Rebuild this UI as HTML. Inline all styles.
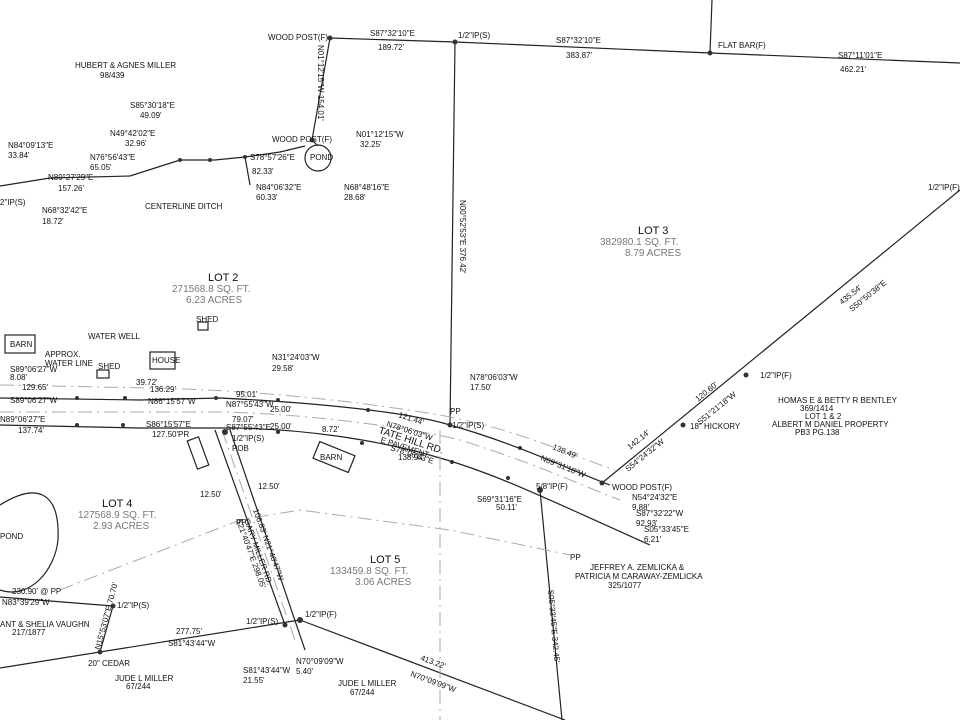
<!DOCTYPE html>
<html><head><meta charset="utf-8"><style>
html,body{margin:0;padding:0;background:#fff;width:960px;height:720px;overflow:hidden}
svg{display:block}
text{font-family:"Liberation Sans",sans-serif;font-size:8px;fill:#111}
.g{fill:#777}
.big{font-size:11px}
.l{stroke:#222;stroke-width:1.2;fill:none}
.d{stroke:#aaa;stroke-width:1;fill:none;stroke-dasharray:14 5 2 5}
.p{fill:#333}
</style></head><body>
<svg width="960" height="720" viewBox="0 0 960 720">
<!-- top boundary -->
<polyline class="l" points="330,38 455,42 710,53 960,63"/>
<line class="l" x1="710" y1="53" x2="712" y2="0"/>
<line class="l" x1="455" y1="42" x2="450" y2="425"/>
<polyline class="l" points="330,38 312,140 318,146"/>
<circle cx="318" cy="158" r="13" class="l"/>
<!-- ditch -->
<polyline class="l" points="0,186 50,178 130,176 180,160 215,160 245,157 280,152 305,146"/>
<polyline class="l" points="245,157 250,185"/>
<!-- diagonal east -->
<line class="l" x1="602" y1="483" x2="960" y2="190"/>
<!-- roads -->
<path class="l" d="M0,398 L140,400 L220,398 C300,402 400,410 450,425 C520,445 570,470 610,485"/>
<path class="l" d="M0,425 L140,428 L225,428 C300,428 380,440 440,458 C500,475 560,505 650,545"/>
<path class="d" d="M0,412 L220,412 C320,414 420,430 460,440 C540,465 580,485 620,500"/>
<path class="d" d="M0,385 L150,388 C250,390 350,400 440,415 C520,430 570,455 615,470"/>
<!-- Gary Miller Rd -->
<line class="l" x1="215" y1="430" x2="285" y2="625"/>
<line class="l" x1="230" y1="430" x2="305" y2="650"/>
<line class="d" x1="222" y1="430" x2="295" y2="640"/>
<!-- south lines -->
<line class="l" x1="0" y1="668" x2="300" y2="620"/>
<line class="l" x1="300" y1="620" x2="565" y2="720"/>
<line class="l" x1="0" y1="597" x2="113" y2="606"/>
<line class="l" x1="113" y1="606" x2="100" y2="652"/>
<line class="l" x1="540" y1="490" x2="562" y2="720"/>
<path class="d" d="M60,590 L240,520 L300,510 L450,530 L570,555"/>
<line class="d" x1="440" y1="430" x2="440" y2="720"/>
<path class="l" d="M0,505 C40,480 60,495 58,540 C55,570 30,600 0,590"/>
<!-- boxes -->
<rect x="5" y="335" width="30" height="18" class="l"/>
<rect x="150" y="352" width="25" height="17" class="l"/>
<rect x="97" y="370" width="12" height="8" class="l"/>
<rect x="198" y="322" width="10" height="8" class="l"/>
<rect x="315" y="448" width="38" height="18" class="l" transform="rotate(22 334 457)"/>
<rect x="192" y="438" width="12" height="30" class="l" transform="rotate(-20 198 453)"/>
<!-- points -->
<g class="p">
<circle cx="330" cy="38" r="2.5"/><circle cx="455" cy="42" r="2.5"/><circle cx="710" cy="53" r="2.5"/>
<circle cx="312" cy="140" r="2.5"/><circle cx="450" cy="425" r="2.5"/><circle cx="540" cy="490" r="3"/>
<circle cx="602" cy="483" r="2.5"/><circle cx="683" cy="425" r="2.5"/><circle cx="746" cy="375" r="2.5"/>
<circle cx="225" cy="432" r="3"/><circle cx="300" cy="620" r="3"/><circle cx="285" cy="625" r="2.5"/>
<circle cx="100" cy="652" r="2.5"/><circle cx="113" cy="606" r="2.5"/>
<circle cx="77" cy="398" r="2"/><circle cx="125" cy="398" r="2"/><circle cx="216" cy="398" r="2"/><circle cx="278" cy="400" r="2"/><circle cx="368" cy="410" r="2"/><circle cx="520" cy="448" r="2"/>
<circle cx="77" cy="425" r="2"/><circle cx="123" cy="425" r="2"/><circle cx="278" cy="432" r="2"/><circle cx="362" cy="443" r="2"/><circle cx="452" cy="462" r="2"/><circle cx="508" cy="478" r="2"/>
<circle cx="180" cy="160" r="2"/><circle cx="210" cy="160" r="2"/><circle cx="245" cy="157" r="2"/>
</g>
<!-- labels -->
<text x="268" y="40">WOOD POST(F)</text>
<text x="370" y="36">S87°32'10"E</text><text x="378" y="50">189.72'</text>
<text x="458" y="38">1/2"IP(S)</text>
<text x="556" y="43">S87°32'10"E</text><text x="566" y="58">383.87'</text>
<text x="718" y="48">FLAT BAR(F)</text>
<text x="838" y="58">S87°11'01"E</text><text x="840" y="72">462.21'</text>
<text x="75" y="68">HUBERT &amp; AGNES MILLER</text><text x="100" y="78">98/439</text>
<text x="318" y="45" transform="rotate(90 318 45)">N01°12'15"W  154.01'</text>
<text x="130" y="108">S85°30'18"E</text><text x="140" y="118">49.09'</text>
<text x="110" y="136">N49°42'02"E</text><text x="125" y="146">32.96'</text>
<text x="90" y="160">N76°56'43"E</text><text x="90" y="170">65.05'</text>
<text x="8" y="148">N84°09'13"E</text><text x="8" y="158">33.84'</text>
<text x="48" y="180">N89°27'29"E</text><text x="58" y="191">157.26'</text>
<text x="0" y="205">2"IP(S)</text>
<text x="42" y="213">N68°32'42"E</text><text x="42" y="224">18.72'</text>
<text x="145" y="209">CENTERLINE DITCH</text>
<text x="272" y="142">WOOD POST(F)</text>
<text x="356" y="137">N01°12'15"W</text><text x="360" y="147">32.25'</text>
<text x="250" y="160">S78°57'26"E</text><text x="252" y="174">82.33'</text>
<text x="310" y="160">POND</text>
<text x="256" y="190">N84°06'32"E</text><text x="256" y="200">60.33'</text>
<text x="344" y="190">N68°48'16"E</text><text x="344" y="200">28.68'</text>
<text x="460" y="200" transform="rotate(90 460 200)">N00°52'53"E  376.42'</text>
<text x="638" y="234" class="big">LOT 3</text>
<text x="600" y="245" class="g" style="font-size:10px">382980.1 SQ. FT.</text>
<text x="625" y="256" class="g" style="font-size:10px">8.79 ACRES</text>
<text x="928" y="190">1/2"IP(F)</text>
<text x="842" y="305" transform="rotate(-39 842 305)">435.54'</text>
<text x="852" y="312" transform="rotate(-39 852 312)">S50°50'38"E</text>
<text x="208" y="281" class="big">LOT 2</text>
<text x="172" y="292" class="g" style="font-size:10px">271568.8 SQ. FT.</text>
<text x="186" y="303" class="g" style="font-size:10px">6.23 ACRES</text>
<text x="196" y="322">SHED</text>
<text x="10" y="347">BARN</text><text x="152" y="363">HOUSE</text><text x="98" y="369">SHED</text>
<text x="88" y="339">WATER WELL</text>
<text x="45" y="357">APPROX.</text><text x="45" y="366">WATER LINE</text>
<text x="10" y="372">S89°06'27"W</text><text x="10" y="380">8.08'</text>
<text x="22" y="390">129.65'</text><text x="10" y="403">S89°06'27"W</text>
<text x="136" y="385">39.72'</text>
<text x="150" y="392">136.29'</text><text x="148" y="404">N86°15'57"W</text>
<text x="272" y="360">N31°24'03"W</text><text x="272" y="371">29.58'</text>
<text x="236" y="397">95.01'</text><text x="226" y="407">N87°55'43"W</text>
<text x="270" y="412">25.00'</text><text x="270" y="429">25.00'</text>
<text x="232" y="422">79.07'</text><text x="226" y="430">S87°55'43"E</text>
<text x="232" y="441">1/2"IP(S)</text><text x="232" y="451">POB</text>
<text x="0" y="422">N89°06'27"E</text><text x="18" y="433">137.74'</text>
<text x="146" y="427">S86°15'57"E</text><text x="152" y="437">127.50'PR</text>
<text x="322" y="432">8.72'</text>
<text x="320" y="460">BARN</text>
<text x="398" y="417" transform="rotate(18 398 417)">121.44'</text>
<text x="386" y="426" transform="rotate(18 386 426)">N78°06'03"W</text>
<text x="378" y="433" transform="rotate(18 378 433)" style="font-size:10px">TATE HILL RD.</text>
<text x="380" y="442" transform="rotate(18 380 442)">E PAVEMENT</text>
<text x="390" y="450" transform="rotate(18 390 450)">S78°06'03"E</text>
<text x="398" y="460">138.94'</text>
<text x="470" y="380">N78°06'03"W</text><text x="470" y="390">17.50'</text>
<text x="450" y="414">PP</text><text x="452" y="428">1/2"IP(S)</text>
<text x="552" y="449" transform="rotate(22 552 449)">138.49'</text>
<text x="540" y="460" transform="rotate(22 540 460)">N69°31'18"W</text>
<text x="536" y="489">5/8"IP(F)</text>
<text x="477" y="502">S69°31'16"E</text><text x="496" y="510">50.11'</text>
<text x="612" y="490">WOOD POST(F)</text>
<text x="632" y="500">N54°24'32"E</text><text x="632" y="510">9.88'</text>
<text x="636" y="516">S87°32'22"W</text><text x="636" y="526">92.93'</text>
<text x="644" y="532">S05°33'45"E</text><text x="644" y="542">6.21'</text>
<text x="630" y="450" transform="rotate(-39 630 450)">142.14'</text>
<text x="628" y="472" transform="rotate(-39 628 472)">S54°24'32"W</text>
<text x="698" y="402" transform="rotate(-39 698 402)">120.60'</text>
<text x="700" y="425" transform="rotate(-39 700 425)">S51°21'18"W</text>
<text x="690" y="429">18" HICKORY</text>
<text x="760" y="378">1/2"IP(F)</text>
<text x="778" y="403">HOMAS E &amp; BETTY R BENTLEY</text>
<text x="800" y="411">369/1414</text>
<text x="805" y="419">LOT 1 &amp; 2</text>
<text x="772" y="427">ALBERT M DANIEL PROPERTY</text>
<text x="795" y="435">PB3 PG.138</text>
<text x="102" y="507" class="big">LOT 4</text>
<text x="78" y="518" class="g" style="font-size:10px">127568.9 SQ. FT.</text>
<text x="93" y="529" class="g" style="font-size:10px">2.93 ACRES</text>
<text x="0" y="539">POND</text>
<text x="200" y="497">12.50'</text><text x="258" y="489">12.50'</text>
<text x="236" y="525">PP</text>
<text x="244" y="520" transform="rotate(70 244 520)">GARY MILLER RD.</text>
<text x="253" y="510" transform="rotate(70 253 510)">106.83' N21°40'47"W</text>
<text x="236" y="520" transform="rotate(70 236 520)">S21°40'47"E 298.05'</text>
<text x="370" y="563" class="big">LOT 5</text>
<text x="330" y="574" class="g" style="font-size:10px">133459.8 SQ. FT.</text>
<text x="355" y="585" class="g" style="font-size:10px">3.06 ACRES</text>
<text x="570" y="560">PP</text>
<text x="590" y="570">JEFFREY A. ZEMLICKA &amp;</text>
<text x="575" y="579">PATRICIA M CARAWAY-ZEMLICKA</text>
<text x="608" y="588">325/1077</text>
<text x="548" y="590" transform="rotate(85 548 590)">S05°33'45"E  342.45'</text>
<text x="12" y="594">230.90' @ PP</text>
<text x="2" y="605">N83°39'29"W</text>
<text x="117" y="608">1/2"IP(S)</text>
<text x="0" y="627">ANT &amp; SHELIA VAUGHN</text><text x="12" y="635">217/1877</text>
<text x="100" y="650" transform="rotate(-75 100 650)">N15°53'07"E 70.70'</text>
<text x="88" y="666">20" CEDAR</text>
<text x="176" y="634">277.75'</text><text x="168" y="646">S81°43'44"W</text>
<text x="246" y="624">1/2"IP(S)</text><text x="305" y="617">1/2"IP(F)</text>
<text x="243" y="673">S81°43'44"W</text><text x="243" y="683">21.55'</text>
<text x="296" y="664">N70°09'09"W</text><text x="296" y="674">5.40'</text>
<text x="115" y="681">JUDE L MILLER</text><text x="126" y="689">67/244</text>
<text x="338" y="686">JUDE L MILLER</text><text x="350" y="695">67/244</text>
<text x="420" y="660" transform="rotate(20 420 660)">413.22'</text>
<text x="410" y="676" transform="rotate(20 410 676)">N70°09'09"W</text>
</svg>
</body></html>
